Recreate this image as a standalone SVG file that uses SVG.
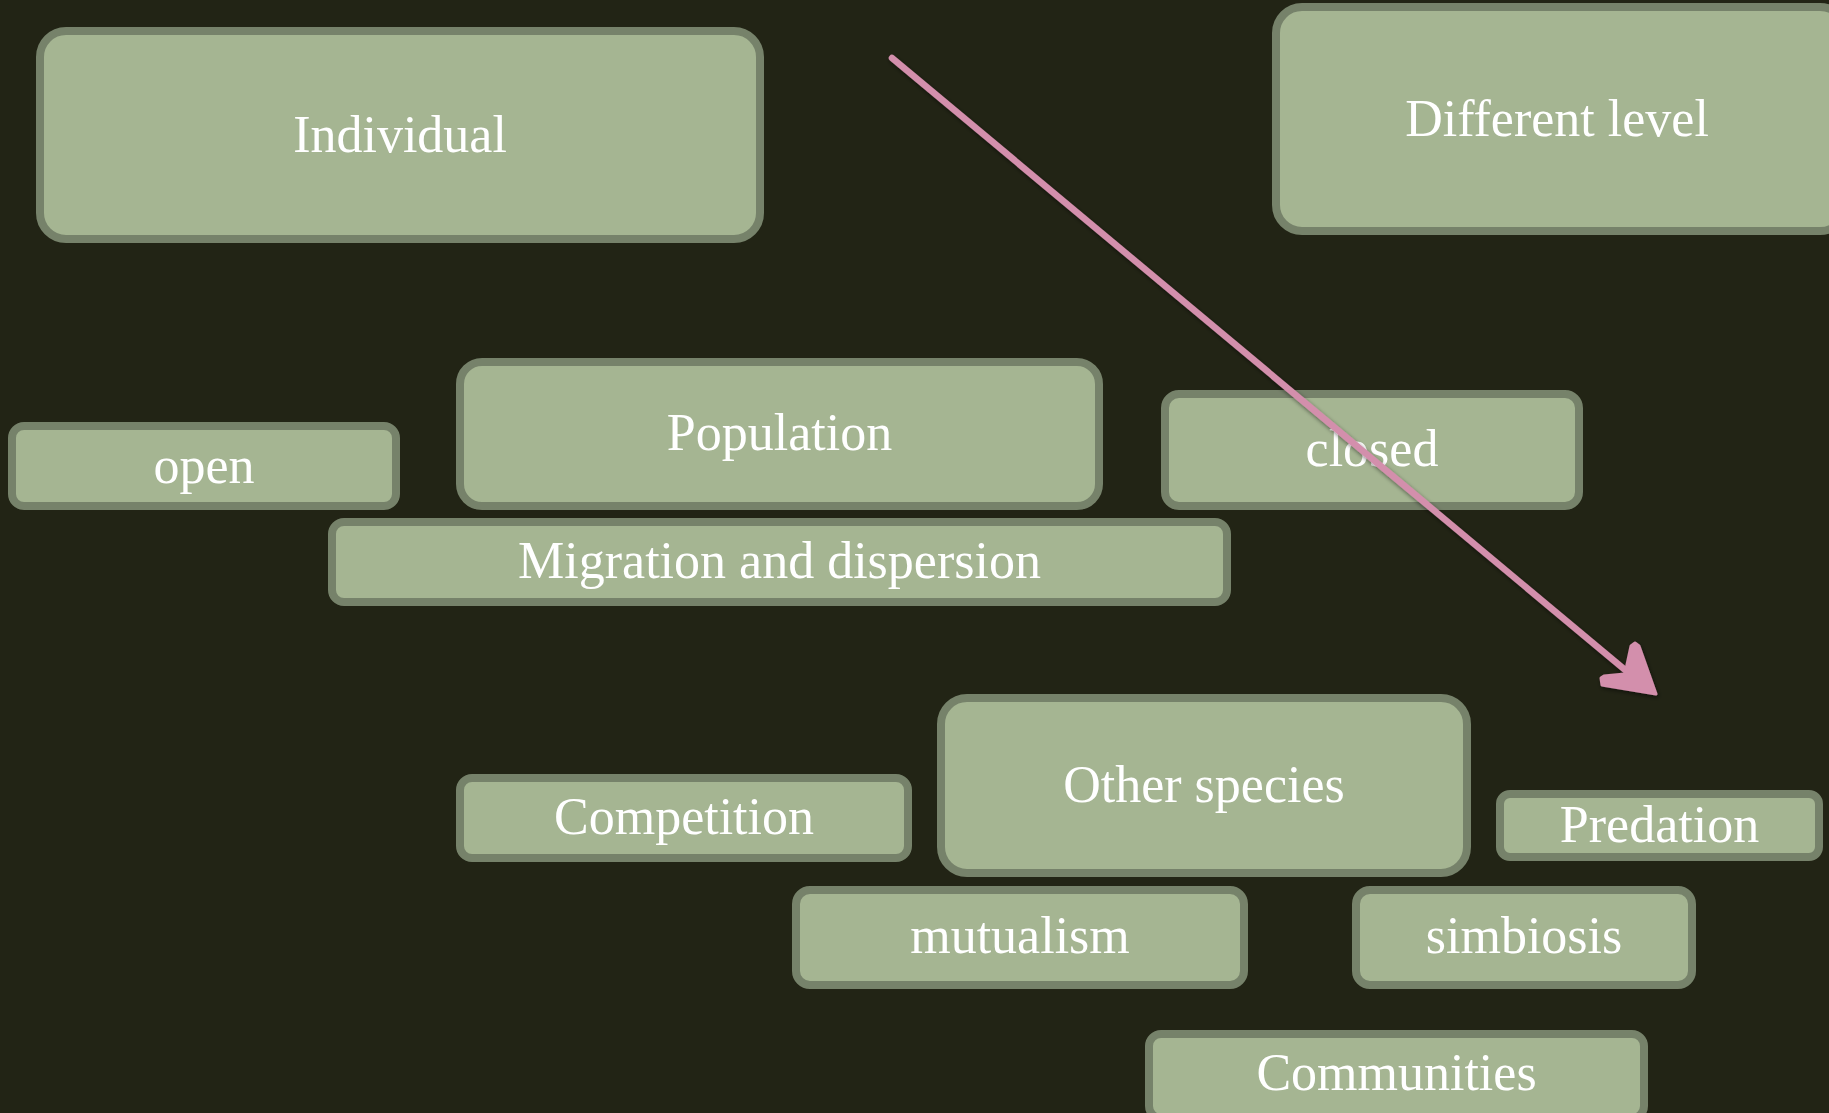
<svg xmlns="http://www.w3.org/2000/svg" width="1829" height="1113" viewBox="0 0 1829 1113">
<style>
.box{fill:#a5b592;stroke:#76826a;stroke-width:8}
.lbl{fill:#ffffff;font-family:"Liberation Serif","DejaVu Serif",serif;font-size:52px;text-anchor:middle}
.arr{fill:none;stroke:#d38fac;stroke-width:6.5;stroke-linecap:round;stroke-linejoin:round}
.head{fill:#d38fac;stroke:#d38fac;stroke-width:3;stroke-linejoin:round}
</style>
<defs>
<filter id="sh" x="-10%" y="-10%" width="120%" height="120%">
<feGaussianBlur in="SourceAlpha" stdDeviation="2"/>
<feOffset dx="1" dy="2"/>
<feComponentTransfer><feFuncA type="linear" slope="0.5"/></feComponentTransfer>
<feMerge><feMergeNode/><feMergeNode in="SourceGraphic"/></feMerge>
</filter>
</defs>
<rect width="1829" height="1113" fill="#222415"/>
<g id="individual"><rect class="box" x="40" y="31" width="720" height="208" rx="26"/><text class="lbl" x="400" y="152">Individual</text></g>
<g id="different-level"><rect class="box" x="1276" y="7" width="570" height="224" rx="26"/><text class="lbl" x="1557" y="136">Different level</text></g>
<g id="population"><rect class="box" x="460" y="362" width="639" height="144" rx="22"/><text class="lbl" x="779.5" y="450">Population</text></g>
<g id="open"><rect class="box" x="12" y="426" width="384" height="80" rx="12"/><text class="lbl" x="204" y="483">open</text></g>
<g id="closed"><rect class="box" x="1165" y="394" width="414" height="112" rx="14"/><text class="lbl" x="1372" y="466">closed</text></g>
<g id="migration"><rect class="box" x="332" y="522" width="895" height="80" rx="12"/><text class="lbl" x="779.5" y="578">Migration and dispersion</text></g>
<g id="competition"><rect class="box" x="460" y="778" width="448" height="80" rx="12"/><text class="lbl" x="684" y="834">Competition</text></g>
<g id="other-species"><rect class="box" x="941" y="698" width="526" height="175" rx="26"/><text class="lbl" x="1204" y="802">Other species</text></g>
<g id="predation"><rect class="box" x="1500" y="794" width="319" height="63" rx="10"/><text class="lbl" x="1659.5" y="842">Predation</text></g>
<g id="mutualism"><rect class="box" x="796" y="890" width="448" height="95" rx="14"/><text class="lbl" x="1020" y="953">mutualism</text></g>
<g id="simbiosis"><rect class="box" x="1356" y="890" width="336" height="95" rx="14"/><text class="lbl" x="1524" y="953">simbiosis</text></g>
<g id="communities"><rect class="box" x="1149" y="1034" width="495" height="84" rx="12"/><text class="lbl" x="1396.5" y="1090">Communities</text></g>
<g id="connectors" filter="url(#sh)">
<path class="arr" d="M892,58 L1636,679"/>
<path class="head" d="M1656,694 L1602,685 L1601,678 L1604,676 L1625,674 L1631,646 L1635,643 L1639,646 Z"/>
</g>
</svg>
